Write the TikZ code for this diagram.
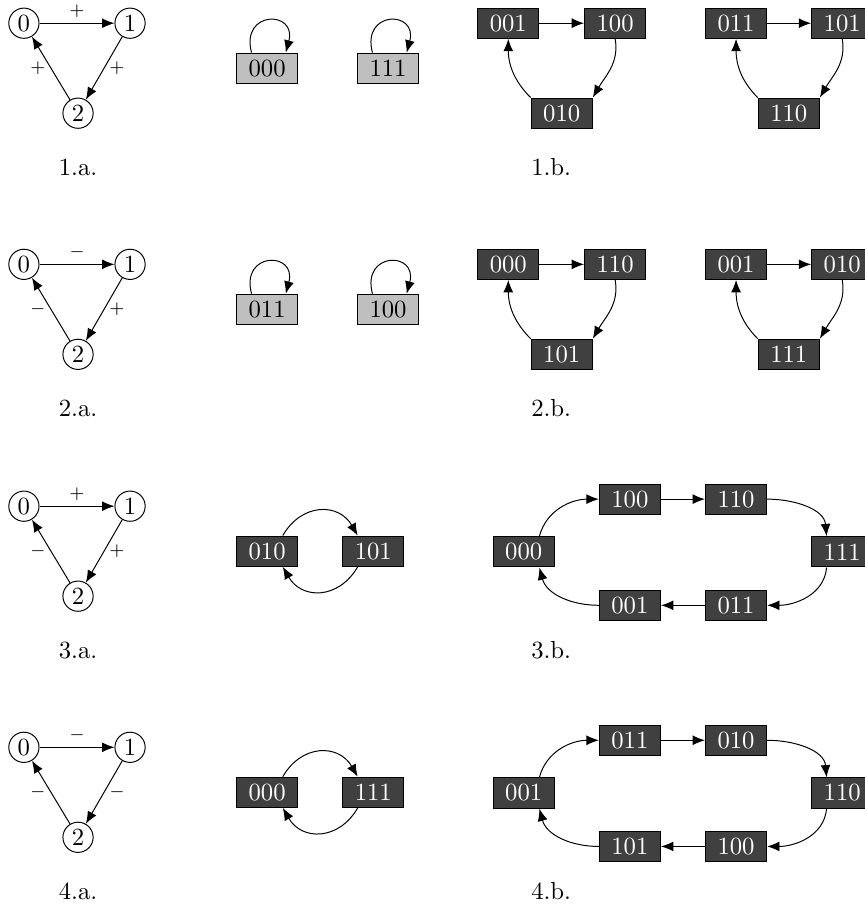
\documentclass[tikz,border=0pt]{standalone}
\usepackage{tikz}
\usetikzlibrary{arrows.meta}

\begin{document}
\begin{tikzpicture}[>={Latex[length=5pt, width=4pt]},
		st/.style={circle, draw, minimum size=0.43cm, inner sep=0pt},
		fixbox/.style={draw, fill=black!25, minimum width=0.87cm, minimum height=0.43cm, inner sep=0pt},
		cycbox/.style={draw, fill=black!75, text=white, minimum width=0.87cm, minimum height=0.43cm, inner sep=0pt},
		sgn/.style={font=\scriptsize, inner sep=2pt}]
			%%%%% START %%%%%
			
			\useasboundingbox (0, 0) rectangle (12.30, -12.93);
			
			%%%%% 1 %%%%%
			\node[st] (p10) at (0.34, -0.33) {0};
			\node[st] (p11) at (1.85, -0.33) {1};
			\node[st] (p12) at (1.11, -1.61) {2};
			\draw[->] (p10) -- node[sgn, above] {$+$} (p11);
			\draw[->] (p11) -- node[sgn, right] {$+$} (p12);
			\draw[->] (p12) -- node[sgn, left] {$+$} (p10);
			\node (l1a) at (1.11, -2.38) {1.a.};
			
			\node[fixbox] (f1a) at (3.80, -0.97) {000};
			\node[fixbox] (f1b) at (5.52, -0.97) {111};
			\draw[->] (f1a.135) to[out=105, in=75, looseness=3.3] (f1a.40);
			\draw[->] (f1b.135) to[out=105, in=75, looseness=3.3] (f1b.40);
			
			\node[cycbox] (c1a) at (7.23, -0.33) {001};
			\node[cycbox] (c1b) at (8.75, -0.33) {100};
			\node[cycbox] (c1c) at (7.99, -1.61) {010};
			\draw[->] (c1a) -- (c1b);
			\draw[->] (c1b.south) to[out=-80, in=60] (c1c.north east);
			\draw[->] (c1c.north west) to[out=135, in=-90] (c1a.south);
			
			\node[cycbox] (c1d) at (10.47, -0.33) {011};
			\node[cycbox] (c1e) at (11.98, -0.33) {101};
			\node[cycbox] (c1f) at (11.22, -1.61) {110};
			\draw[->] (c1d) -- (c1e);
			\draw[->] (c1e.south) to[out=-80, in=60] (c1f.north east);
			\draw[->] (c1f.north west) to[out=135, in=-90] (c1d.south);
			\node (l1b) at (7.84, -2.38) {1.b.};
			
			%%%%% 2 %%%%%
			\node[st] (p20) at (0.34, -3.76) {0};
			\node[st] (p21) at (1.85, -3.76) {1};
			\node[st] (p22) at (1.11, -5.04) {2};
			\draw[->] (p20) -- node[sgn, above] {$-$} (p21);
			\draw[->] (p21) -- node[sgn, right] {$+$} (p22);
			\draw[->] (p22) -- node[sgn, left] {$-$} (p20);
			\node (l2a) at (1.11, -5.81) {2.a.};
			
			\node[fixbox] (f2a) at (3.80, -4.40) {011};
			\node[fixbox] (f2b) at (5.52, -4.40) {100};
			\draw[->] (f2a.135) to[out=105, in=75, looseness=3.3] (f2a.40);
			\draw[->] (f2b.135) to[out=105, in=75, looseness=3.3] (f2b.40);
			
			\node[cycbox] (c2a) at (7.23, -3.76) {000};
			\node[cycbox] (c2b) at (8.75, -3.76) {110};
			\node[cycbox] (c2c) at (7.99, -5.04) {101};
			\draw[->] (c2a) -- (c2b);
			\draw[->] (c2b.south) to[out=-80, in=60] (c2c.north east);
			\draw[->] (c2c.north west) to[out=135, in=-90] (c2a.south);
			
			\node[cycbox] (c2d) at (10.47, -3.76) {001};
			\node[cycbox] (c2e) at (11.98, -3.76) {010};
			\node[cycbox] (c2f) at (11.22, -5.04) {111};
			\draw[->] (c2d) -- (c2e);
			\draw[->] (c2e.south) to[out=-80, in=60] (c2f.north east);
			\draw[->] (c2f.north west) to[out=135, in=-90] (c2d.south);
			\node (l2b) at (7.84, -5.81) {2.b.};
			
			%%%%% 3 %%%%%
			\node[st] (p30) at (0.34, -7.20) {0};
			\node[st] (p31) at (1.85, -7.20) {1};
			\node[st] (p32) at (1.11, -8.48) {2};
			\draw[->] (p30) -- node[sgn, above] {$+$} (p31);
			\draw[->] (p31) -- node[sgn, right] {$+$} (p32);
			\draw[->] (p32) -- node[sgn, left] {$-$} (p30);
			\node (l3a) at (1.11, -9.25) {3.a.};
			
			\node[cycbox] (m3a) at (3.80, -7.84) {010};
			\node[cycbox] (m3b) at (5.31, -7.84) {101};
			\draw[->] (m3a.45) to[out=60, in=120, looseness=1.3] (m3b.135);
			\draw[->] (m3b.-135) to[out=-120, in=-60, looseness=1.3] (m3a.-45);
			
			\node[cycbox] (c3a) at (7.45, -7.85) {000};
			\node[cycbox] (c3b) at (8.96, -7.10) {100};
			\node[cycbox] (c3c) at (10.47, -7.10) {110};
			\node[cycbox] (c3d) at (11.98, -7.85) {111};
			\node[cycbox] (c3e) at (10.47, -8.61) {011};
			\node[cycbox] (c3f) at (8.96, -8.61) {001};
			\draw[->] (c3a.45) to[out=75, in=180] (c3b.west);
			\draw[->] (c3b) -- (c3c);
			\draw[->] (c3c.east) to[out=0, in=95] (c3d.135);
			\draw[->] (c3d.-135) to[out=-95, in=0] (c3e.east);
			\draw[->] (c3e) -- (c3f);
			\draw[->] (c3f.west) to[out=180, in=-75] (c3a.-45);
			\node (l3b) at (7.84, -9.25) {3.b.};
			
			%%%%% 4 %%%%%
			\node[st] (p40) at (0.34, -10.63) {0};
			\node[st] (p41) at (1.85, -10.63) {1};
			\node[st] (p42) at (1.11, -11.91) {2};
			\draw[->] (p40) -- node[sgn, above] {$-$} (p41);
			\draw[->] (p41) -- node[sgn, right] {$-$} (p42);
			\draw[->] (p42) -- node[sgn, left] {$-$} (p40);
			\node (l4a) at (1.11, -12.68) {4.a.};
			
			\node[cycbox] (m4a) at (3.80, -11.27) {000};
			\node[cycbox] (m4b) at (5.31, -11.27) {111};
			\draw[->] (m4a.45) to[out=60, in=120, looseness=1.3] (m4b.135);
			\draw[->] (m4b.-135) to[out=-120, in=-60, looseness=1.3] (m4a.-45);
			
			\node[cycbox] (c4a) at (7.45, -11.28) {001};
			\node[cycbox] (c4b) at (8.96, -10.53) {011};
			\node[cycbox] (c4c) at (10.47, -10.53) {010};
			\node[cycbox] (c4d) at (11.98, -11.28) {110};
			\node[cycbox] (c4e) at (10.47, -12.04) {100};
			\node[cycbox] (c4f) at (8.96, -12.04) {101};
			\draw[->] (c4a.45) to[out=75, in=180] (c4b.west);
			\draw[->] (c4b) -- (c4c);
			\draw[->] (c4c.east) to[out=0, in=95] (c4d.135);
			\draw[->] (c4d.-135) to[out=-95, in=0] (c4e.east);
			\draw[->] (c4e) -- (c4f);
			\draw[->] (c4f.west) to[out=180, in=-75] (c4a.-45);
			\node (l4b) at (7.84, -12.68) {4.b.};
			
			%%%%% END %%%%%
		\end{tikzpicture}
\end{document}
